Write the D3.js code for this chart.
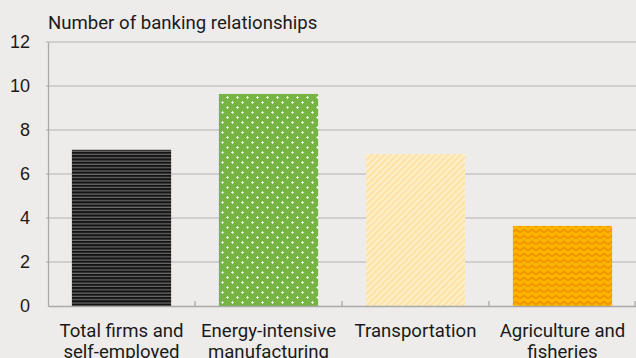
<!DOCTYPE html>
<html>
<head>
<meta charset="utf-8">
<script src="https://cdn.jsdelivr.net/npm/d3@7/dist/d3.min.js"></script>
<style>
  html, body { margin: 0; padding: 0; background: #eeeceb; }
  svg { display: block; font-family: Roboto, "Noto Sans", sans-serif; }
</style>
</head>
<body>
<svg id="chart" width="636" height="358"></svg>
<script>
// Banking relationships by sector
const categories = [
  ["Total firms and", "self-employed"],
  ["Energy-intensive", "manufacturing"],
  ["Transportation"],
  ["Agriculture and", "fisheries"]
];
const values = [7.1, 9.64, 6.91, 3.64];
const yTicks = [0, 2, 4, 6, 8, 10, 12];
const yTitle = "Number of banking relationships";
const fills = ["url(#p-stripes)", "url(#p-dots)", "url(#p-diag)", "url(#p-zigzag)"];

const W = 636, H = 358;
const m = { top: 42, right: 0, bottom: 52, left: 48 };
const svg = d3.select("#chart");

svg.append("rect").attr("width", W).attr("height", H).attr("fill", "#eeeceb");

// ---- fill patterns ----
const defs = svg.append("defs");

const pS = defs.append("pattern").attr("id", "p-stripes")
  .attr("patternUnits", "userSpaceOnUse").attr("width", 4).attr("height", 3.3);
pS.append("rect").attr("width", 4).attr("height", 3.3).attr("fill", "#141414");
pS.append("rect").attr("y", 2.1).attr("width", 4).attr("height", 1.2).attr("fill", "#6a6a6a");

const pD = defs.append("pattern").attr("id", "p-dots")
  .attr("patternUnits", "userSpaceOnUse").attr("width", 10).attr("height", 10);
pD.append("rect").attr("width", 10).attr("height", 10).attr("fill", "#76b443");
[[2.5, 2.5], [7.5, 7.5]].forEach(([cx, cy]) => {
  pD.append("rect").attr("x", cx - 1.5).attr("y", cy - 0.5).attr("width", 3).attr("height", 1).attr("fill", "#d9ecc8");
  pD.append("rect").attr("x", cx - 0.5).attr("y", cy - 1.5).attr("width", 1).attr("height", 3).attr("fill", "#d9ecc8");
  pD.append("rect").attr("x", cx - 0.5).attr("y", cy - 0.5).attr("width", 1).attr("height", 1).attr("fill", "#ffffff");
});

const pG = defs.append("pattern").attr("id", "p-diag")
  .attr("patternUnits", "userSpaceOnUse").attr("width", 4.5).attr("height", 4.5)
  .attr("patternTransform", "rotate(45)");
pG.append("rect").attr("width", 4.5).attr("height", 4.5).attr("fill", "#fde2a6");
pG.append("rect").attr("width", 2).attr("height", 4.5).attr("fill", "#fff0cc");

const pZ = defs.append("pattern").attr("id", "p-zigzag")
  .attr("patternUnits", "userSpaceOnUse").attr("width", 8).attr("height", 6);
pZ.append("rect").attr("width", 8).attr("height", 6).attr("fill", "#fdb400");
pZ.append("path").attr("d", "M0,4.5 L4,1.5 L8,4.5")
  .attr("fill", "none").attr("stroke", "#f09200").attr("stroke-width", 1.6);

// ---- scales ----
const x = d3.scaleBand().domain(d3.range(categories.length))
  .range([m.left, W - m.right]).padding(0);
const y = d3.scaleLinear().domain([0, 12]).range([H - m.bottom, m.top]);
const barW = x.bandwidth() * 0.675;

// gridlines
svg.append("g").selectAll("line").data(yTicks.filter(t => t > 0)).join("line")
  .attr("x1", m.left - 2).attr("x2", W)
  .attr("y1", d => y(d)).attr("y2", d => y(d))
  .attr("stroke", "#c6c5c5").attr("stroke-width", 1.3);

// bars
svg.append("g").selectAll("rect").data(values).join("rect")
  .attr("x", (d, i) => x(i) + (x.bandwidth() - barW) / 2)
  .attr("width", barW)
  .attr("y", d => y(d))
  .attr("height", d => y(0) - y(d))
  .attr("fill", (d, i) => fills[i]);

// y axis
const yAxis = svg.append("g").attr("transform", `translate(${m.left},0)`)
  .call(d3.axisLeft(y).tickValues(yTicks).tickSize(0).tickPadding(18));
yAxis.select(".domain").attr("stroke", "#a9a9a9").attr("stroke-width", 1.3);
yAxis.selectAll("text").attr("font-size", 18).attr("fill", "#1a1a1a");

// x axis
const xAxis = svg.append("g").attr("transform", `translate(0,${y(0)})`)
  .call(d3.axisBottom(x).tickSize(0).tickFormat(""));
xAxis.select(".domain").attr("stroke", "#a9a9a9").attr("stroke-width", 1.5);
xAxis.selectAll(".tick").remove();
svg.append("g").selectAll("line").data(d3.range(1, categories.length + 1)).join("line")
  .attr("x1", i => Math.min(x(0) + i * x.step(), W - 1))
  .attr("x2", i => Math.min(x(0) + i * x.step(), W - 1))
  .attr("y1", y(0) - 5).attr("y2", y(0))
  .attr("stroke", "#a9a9a9").attr("stroke-width", 1.3);

// category labels
const lab = svg.append("g").selectAll("text").data(categories).join("text")
  .attr("text-anchor", "middle").attr("font-size", 18.6).attr("fill", "#1a1a1a")
  .attr("x", (d, i) => x(i) + x.bandwidth() / 2)
  .attr("y", y(0) + 31);
lab.selectAll("tspan").data(d => d).join("tspan")
  .attr("x", function () { return d3.select(this.parentNode).attr("x"); })
  .attr("dy", (d, i) => i === 0 ? 0 : 21)
  .text(d => d);

// axis title
svg.append("text").attr("x", m.left).attr("y", 29)
  .attr("font-size", 18.6).attr("fill", "#1a1a1a").text(yTitle);
</script>
</body>
</html>
